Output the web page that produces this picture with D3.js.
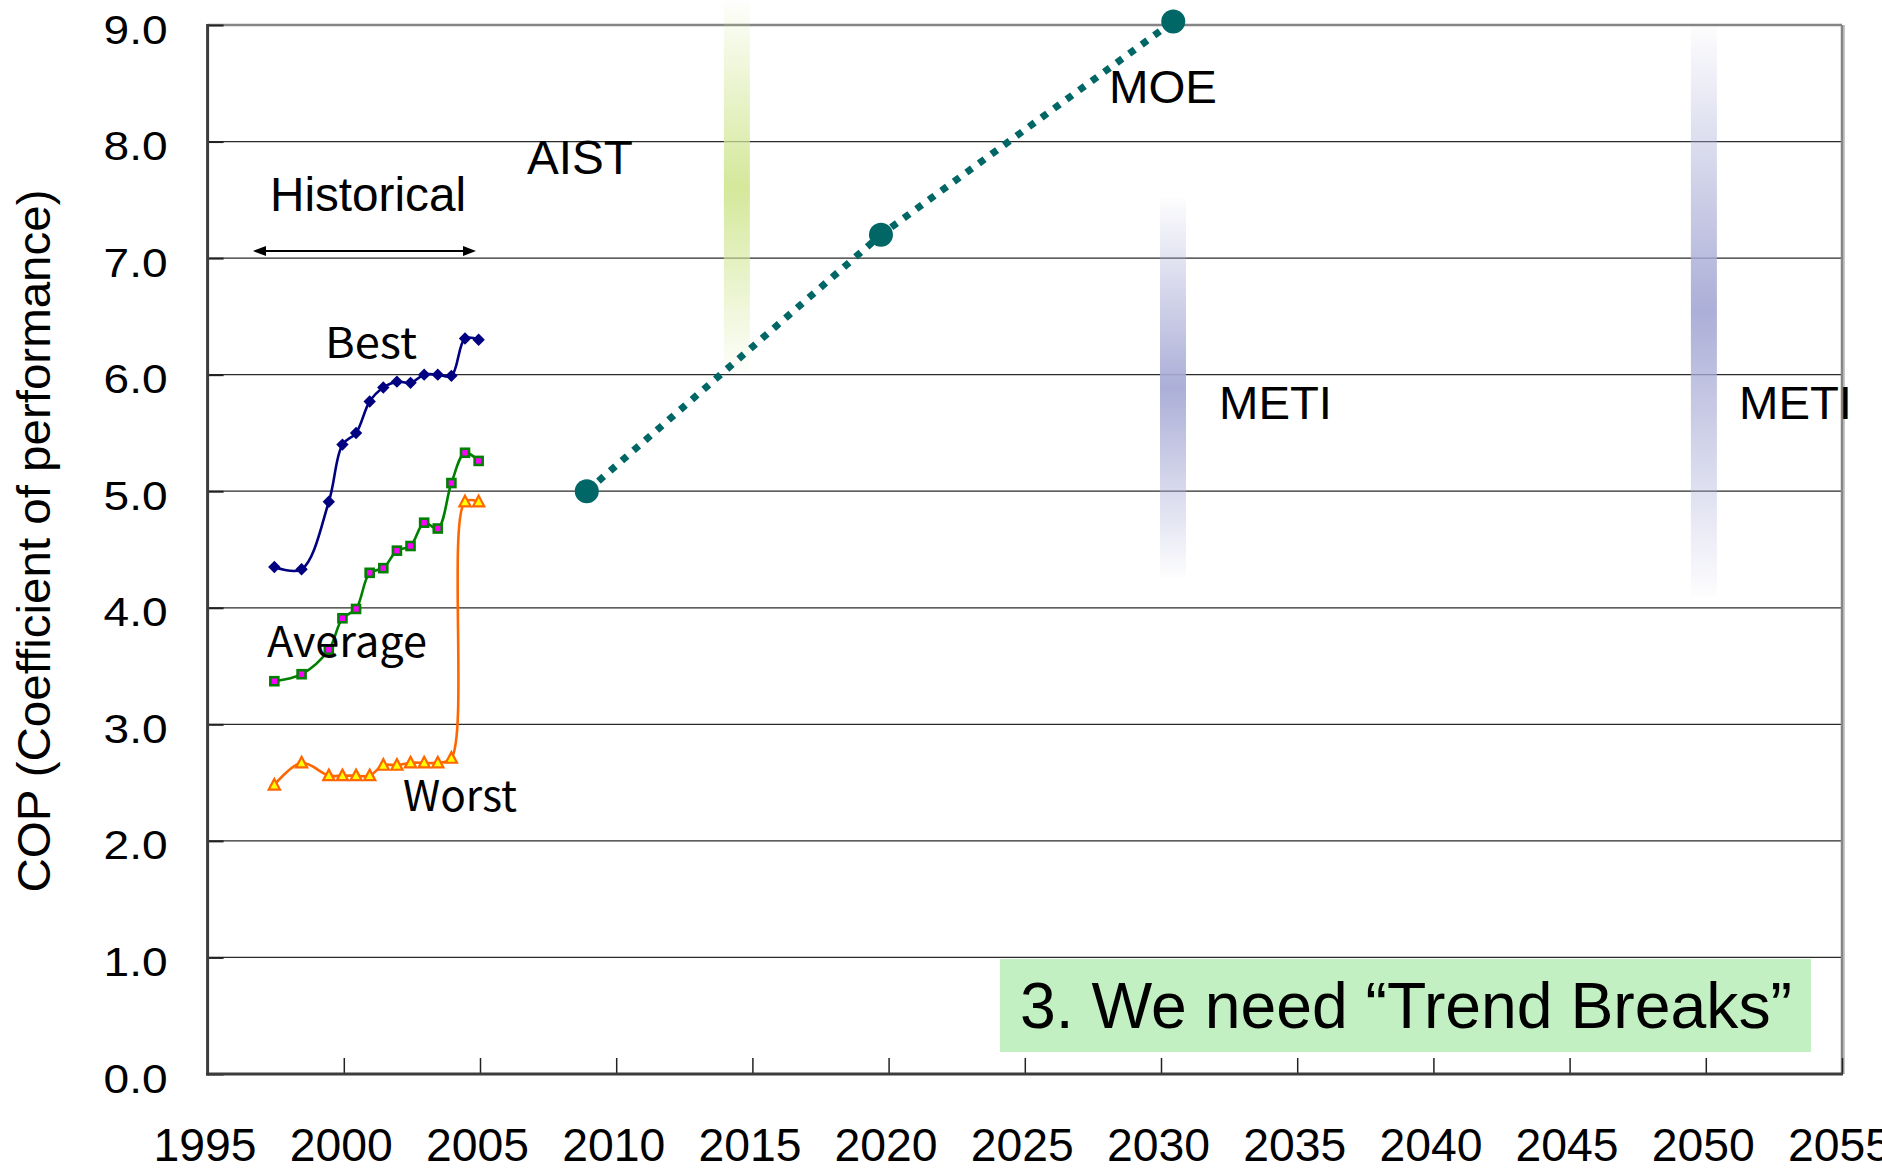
<!DOCTYPE html>
<html>
<head>
<meta charset="utf-8">
<script src="https://cdn.jsdelivr.net/npm/d3@7"></script>
<style>
  html, body { margin: 0; padding: 0; background: #ffffff; }
  svg { display: block; }
</style>
</head>
<body>
<script>
// ---------------- DATA ----------------
const histYears  = [1997.45, 1998.45, 1999.45, 1999.95, 2000.45, 2000.95, 2001.45, 2001.95, 2002.45, 2002.95, 2003.45, 2003.95, 2004.45, 2004.95];
const bestCOP    = [4.35, 4.33, 4.91, 5.40, 5.50, 5.77, 5.89, 5.94, 5.93, 6.00, 6.00, 5.99, 6.31, 6.30];
const averageCOP = [3.37, 3.43, 3.64, 3.91, 3.99, 4.30, 4.34, 4.49, 4.53, 4.73, 4.68, 5.07, 5.33, 5.26];
const worstCOP   = [2.48, 2.67, 2.56, 2.56, 2.56, 2.56, 2.65, 2.65, 2.67, 2.67, 2.67, 2.71, 4.91, 4.91];

const projYears  = [2008.92, 2019.72, 2030.45];
const projCOP    = [5.00, 7.20, 9.03];

const targetNames = ["AIST", "METI", "METI"];
const targetYears = [2014.43, 2030.44, 2049.93];
const targetLow   = [6.00, 4.26, 4.09];
const targetHigh  = [9.21, 7.52, 9.00];

const xTickValues = [1995, 2000, 2005, 2010, 2015, 2020, 2025, 2030, 2035, 2040, 2045, 2050, 2055];
const xTickLabels = ["1995","2000","2005","2010","2015","2020","2025","2030","2035","2040","2045","2050","2055"];
const yTickValues = [0, 1, 2, 3, 4, 5, 6, 7, 8, 9];
const yTickLabels = ["0.0","1.0","2.0","3.0","4.0","5.0","6.0","7.0","8.0","9.0"];

// ---------------- LAYOUT ----------------
const W = 1882, H = 1170;
const L = 207.6, R = 1842, T = 25, B = 1074;
const ARIAL = "'Liberation Sans', Arial, Helvetica, sans-serif";
const GOTHIC = "'Noto Sans CJK JP', 'Noto Sans', sans-serif";

const svg = d3.select("body").append("svg").attr("width", W).attr("height", H);
const defs = svg.append("defs");

const x = d3.scaleLinear().domain([1995, 2055]).range([L, R]);
const y = d3.scaleLinear().domain([0, 9]).range([B, T]);

// gridlines
svg.append("g").selectAll("line").data(yTickValues.filter(v => v > 0 && v < 9)).join("line")
  .attr("x1", L).attr("x2", R).attr("y1", d => y(d)).attr("y2", d => y(d))
  .attr("stroke", "#2a2a2a").attr("stroke-width", 1.3);

// frame (top & right grey)
svg.append("line").attr("x1", L).attr("x2", R).attr("y1", T).attr("y2", T).attr("stroke", "#858585").attr("stroke-width", 2.5);
svg.append("line").attr("x1", R + 2).attr("x2", R + 2).attr("y1", T).attr("y2", B).attr("stroke", "#c8c8c8").attr("stroke-width", 2);
svg.append("line").attr("x1", R).attr("x2", R).attr("y1", T).attr("y2", B).attr("stroke", "#858585").attr("stroke-width", 2.5);

// target gradient bars
const targetColors = ["#d3e797", "#a9acd6", "#a9acd6"];
targetYears.forEach((yr, i) => {
  const g = defs.append("linearGradient").attr("id", "tg" + i)
    .attr("x1", 0).attr("y1", 0).attr("x2", 0).attr("y2", 1);
  g.append("stop").attr("offset", "0%").attr("stop-color", targetColors[i]).attr("stop-opacity", 0.02);
  g.append("stop").attr("offset", "50%").attr("stop-color", targetColors[i]).attr("stop-opacity", 0.97);
  g.append("stop").attr("offset", "100%").attr("stop-color", targetColors[i]).attr("stop-opacity", 0.02);
});
svg.append("g").selectAll("rect").data(targetYears).join("rect")
  .attr("x", d => x(d) - 13).attr("width", 26)
  .attr("y", (d, i) => y(targetHigh[i]))
  .attr("height", (d, i) => y(targetLow[i]) - y(targetHigh[i]))
  .attr("fill", (d, i) => `url(#tg${i})`);

// axes
const yAxis = d3.axisLeft(y).tickValues(yTickValues)
  .tickFormat((d, i) => yTickLabels[i]).tickSize(-16).tickPadding(40);
const gy = svg.append("g").attr("transform", `translate(${L},0)`).call(yAxis);
gy.select(".domain").remove();
gy.selectAll(".tick line").attr("stroke", "#222").attr("stroke-width", 2);
gy.selectAll(".tick text")
  .attr("font-family", ARIAL).attr("font-size", 40).attr("fill", "#000")
  .attr("dy", "0.45em")
  .attr("textLength", 64).attr("lengthAdjust", "spacingAndGlyphs");

const xAxis = d3.axisBottom(x).tickValues(xTickValues)
  .tickFormat((d, i) => xTickLabels[i]).tickSize(-16).tickPadding(54);
const gx = svg.append("g").attr("transform", `translate(0,${B})`).call(xAxis);
gx.select(".domain").remove();
gx.selectAll(".tick line").attr("stroke", "#222").attr("stroke-width", 1.5);
gx.selectAll(".tick text")
  .attr("font-family", ARIAL).attr("font-size", 46).attr("fill", "#000")
  .attr("dx", -3)
  .attr("textLength", 103).attr("lengthAdjust", "spacingAndGlyphs");

// left & bottom axis lines
svg.append("line").attr("x1", L).attr("x2", L).attr("y1", T - 1).attr("y2", B + 1.5).attr("stroke", "#3c3c3c").attr("stroke-width", 3);
svg.append("line").attr("x1", L - 1.5).attr("x2", R + 1).attr("y1", B).attr("y2", B).attr("stroke", "#3c3c3c").attr("stroke-width", 3);

// historical series
const line = d3.line().x(d => x(d[0])).y(d => y(d[1])).curve(d3.curveCatmullRom.alpha(0.5));
const series = [
  { vals: bestCOP,    color: "#000080" },
  { vals: averageCOP, color: "#008000" },
  { vals: worstCOP,   color: "#ff6600" }
];
series.forEach(s => {
  const pts = histYears.map((yr, i) => [yr, s.vals[i]]);
  svg.append("path").attr("d", line(pts)).attr("fill", "none")
    .attr("stroke", s.color).attr("stroke-width", 2.6);
});
// markers
const bestPts = histYears.map((yr, i) => [yr, bestCOP[i]]);
svg.append("g").selectAll("path").data(bestPts).join("path")
  .attr("transform", d => `translate(${x(d[0])},${y(d[1])})`)
  .attr("d", "M0,-6.2L6.2,0L0,6.2L-6.2,0Z").attr("fill", "#000080");
const avgPts = histYears.map((yr, i) => [yr, averageCOP[i]]);
svg.append("g").selectAll("rect").data(avgPts).join("rect")
  .attr("x", d => x(d[0]) - 4).attr("y", d => y(d[1]) - 4)
  .attr("width", 8).attr("height", 8)
  .attr("fill", "#ff00ff").attr("stroke", "#008000").attr("stroke-width", 2.6);
const worstPts = histYears.map((yr, i) => [yr, worstCOP[i]]);
svg.append("g").selectAll("path").data(worstPts).join("path")
  .attr("transform", d => `translate(${x(d[0])},${y(d[1])})`)
  .attr("d", "M0,-6L5.6,4.6L-5.6,4.6Z")
  .attr("fill", "#ffff00").attr("stroke", "#ff6600").attr("stroke-width", 2.2).attr("stroke-linejoin", "miter");

// projection (MOE)
const projPts = projYears.map((yr, i) => [yr, projCOP[i]]);
svg.append("path").attr("d", d3.line().x(d => x(d[0])).y(d => y(d[1]))(projPts))
  .attr("fill", "none").attr("stroke", "#006666").attr("stroke-width", 7)
  .attr("stroke-dasharray", "7,8.5");
svg.append("g").selectAll("circle").data(projPts).join("circle")
  .attr("cx", d => x(d[0])).attr("cy", d => y(d[1])).attr("r", 12)
  .attr("fill", "#006666");

// historical arrow
const ay = 251, ax1 = 253, ax2 = 476;
svg.append("line").attr("x1", ax1 + 6).attr("x2", ax2 - 6).attr("y1", ay).attr("y2", ay)
  .attr("stroke", "#000").attr("stroke-width", 2);
svg.append("path").attr("d", `M${ax1},${ay}L${ax1 + 13},${ay - 5}L${ax1 + 13},${ay + 5}Z`).attr("fill", "#000");
svg.append("path").attr("d", `M${ax2},${ay}L${ax2 - 13},${ay - 5}L${ax2 - 13},${ay + 5}Z`).attr("fill", "#000");

// text helper
function label(txt, px, py, size, len, family) {
  svg.append("text").attr("x", px).attr("y", py)
    .attr("font-family", family || ARIAL).attr("font-size", size).attr("fill", "#000")
    .attr("textLength", len).attr("lengthAdjust", "spacingAndGlyphs")
    .text(txt);
}
label("Historical", 270, 211, 48, 196);
label("AIST", 527, 174, 48, 106);
label("MOE", 1109, 103, 47, 108);
label(targetNames[1], 1219, 419, 47, 113);
label(targetNames[2], 1739, 419, 47, 113);
label("Best", 325, 358, 42, 92, GOTHIC);
label("Average", 267, 657, 42, 160, GOTHIC);
label("Worst", 403, 811, 42, 114, GOTHIC);

// y-axis title
svg.append("text").attr("transform", "translate(50,541) rotate(-90)")
  .attr("text-anchor", "middle")
  .attr("font-family", ARIAL).attr("font-size", 47).attr("fill", "#000")
  .attr("textLength", 703).attr("lengthAdjust", "spacingAndGlyphs")
  .text("COP (Coefficient of performance)");

// trend break box
svg.append("rect").attr("x", 1000).attr("y", 959).attr("width", 811).attr("height", 93).attr("fill", "#c2f0c2");
label("3. We need \u201CTrend Breaks\u201D", 1020, 1028, 64, 772);
</script>
</body>
</html>
